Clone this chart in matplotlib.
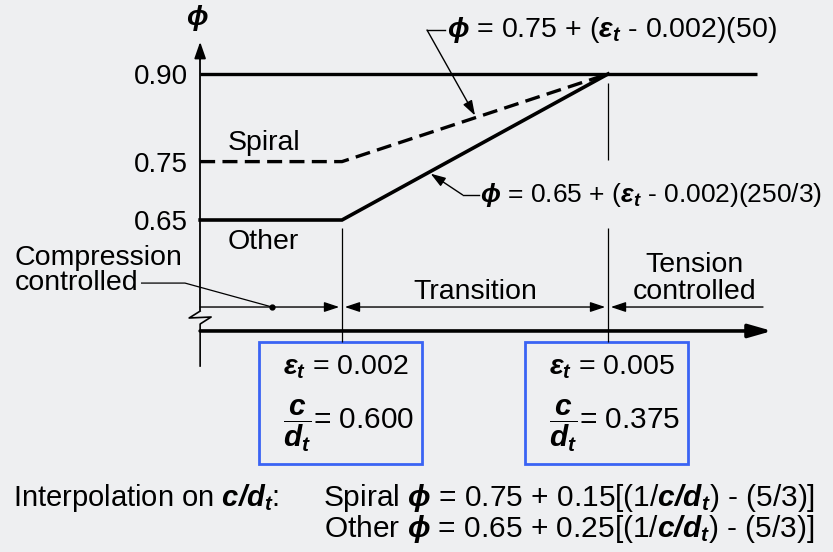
import numpy as np
import matplotlib.pyplot as plt
from matplotlib.patches import Rectangle

plt.rcParams['font.family'] = ['Liberation Sans', 'DejaVu Sans']
plt.rcParams['mathtext.fontset'] = 'custom'
plt.rcParams['mathtext.rm'] = 'Liberation Sans'
plt.rcParams['mathtext.it'] = 'Liberation Sans:italic'
plt.rcParams['mathtext.bf'] = 'Liberation Sans:bold'
plt.rcParams['mathtext.bfit'] = 'Liberation Sans:bold:italic'
plt.rcParams['mathtext.fallback'] = 'stixsans'

# strain limits of the transition zone and the phi values at those limits
eps_limits = [0.002, 0.005]
phi_spiral = [0.75, 0.90]
phi_other = [0.65, 0.90]
c_dt_text = ['0.600', '0.375']
eps_text = ['0.002', '0.005']
phi_ticks = [0.65, 0.75, 0.90]
tick_labels = ['0.65', '0.75', '0.90']

# layout (strain / phi units)
EPS_AXIS = 0.0004      # where the phi axis sits
EPS_END = 0.00668      # end of the 0.90 line
EPS_ARROW = 0.00685    # tip of the strain axis
PHI_TOP = 0.955        # tip of the phi axis
PHI_ROW = 0.501        # row of zone arrows
PHI_XAXIS = 0.460      # strain axis
BG = '#eeeff1'
BLUE = '#3a63f4'
PHI = r'$\mathbfit{ϕ}$'

fig = plt.figure(figsize=(8.33, 5.52), dpi=100)
fig.patch.set_facecolor(BG)
ax = fig.add_axes([0, 0, 1, 1])
ax.set_facecolor(BG)
ax.set_xlim(-0.0018571, 0.0075375)
ax.set_ylim(0.08151, 1.02671)
for s in ['top', 'right', 'bottom']:
    ax.spines[s].set_visible(False)
ax.set_xticks([])

# phi axis with its tick labels
ax.spines['left'].set_position(('data', EPS_AXIS))
ax.spines['left'].set_bounds(PHI_ROW - 0.005, PHI_TOP - 0.02)
ax.spines['left'].set_linewidth(1.3)
ax.set_yticks(phi_ticks)
ax.set_yticklabels(tick_labels)
ax.tick_params(axis='y', length=0, pad=9, labelsize=20)
ax.annotate('', xy=(EPS_AXIS, PHI_TOP), xytext=(EPS_AXIS, PHI_TOP - 0.03),
            arrowprops=dict(arrowstyle='-|>,head_length=1.0,head_width=0.35',
                            color='k', lw=1.3, shrinkA=0, shrinkB=0))
# break symbol and lower stub of the phi axis
dx = 0.000124
zz_x = [EPS_AXIS, EPS_AXIS - dx, EPS_AXIS + dx, EPS_AXIS, EPS_AXIS]
zz_y = [PHI_ROW - 0.007, 0.4822, 0.4839, 0.4719, 0.40]
ax.plot(zz_x, zz_y, color='k', lw=1.2)

# strain axis
ax.annotate('', xy=(EPS_ARROW, PHI_XAXIS), xytext=(EPS_AXIS, PHI_XAXIS),
            arrowprops=dict(arrowstyle='-|>,head_length=1.4,head_width=0.4',
                            color='k', lw=2.6, shrinkA=0, shrinkB=0))

# phi curves
x_curve = [EPS_AXIS] + eps_limits
ax.plot([EPS_AXIS, EPS_END], [phi_spiral[1]] * 2, color='k', lw=2.4,
        solid_capstyle='butt')
ax.plot(x_curve, [phi_spiral[0]] + phi_spiral, color='k', lw=2.4,
        ls=(0, (4.5, 2.2)))
ax.plot(x_curve, [phi_other[0]] + phi_other, color='k', lw=2.6,
        solid_joinstyle='miter')

# vertical guides at the strain limits
ax.vlines(eps_limits[0], 0.441, phi_other[0] - 0.014, color='k', lw=0.9)
ax.vlines(eps_limits[1], 0.441, 0.637, color='k', lw=0.9)
ax.vlines(eps_limits[1], 0.752, phi_spiral[1] - 0.016, color='k', lw=0.9)

# zone arrows
head = 'head_length=0.9,head_width=0.3'
ax.annotate('', xy=(eps_limits[0], PHI_ROW), xytext=(EPS_AXIS, PHI_ROW),
            arrowprops=dict(arrowstyle='-|>,' + head, color='k', lw=1.0,
                            shrinkA=0, shrinkB=2))
ax.annotate('', xy=(eps_limits[1], PHI_ROW), xytext=(eps_limits[0], PHI_ROW),
            arrowprops=dict(arrowstyle='<|-|>,' + head, color='k', lw=1.0,
                            shrinkA=2, shrinkB=2))
ax.annotate('', xy=(eps_limits[1], PHI_ROW), xytext=(0.006748, PHI_ROW),
            arrowprops=dict(arrowstyle='-|>,' + head, color='k', lw=1.0,
                            shrinkA=0, shrinkB=2))

fs = 20.5
ax.text(np.mean(eps_limits), 0.527, 'Transition', fontsize=fs,
        ha='center', va='center')
ax.text(0.00598, 0.573, 'Tension', fontsize=fs, ha='center', va='center')
ax.text(0.00598, 0.527, 'controlled', fontsize=fs, ha='center', va='center')
ax.text(-0.001688, 0.585, 'Compression', fontsize=fs, ha='left', va='center')
ax.text(-0.001688, 0.542, 'controlled', fontsize=fs, ha='left', va='center')
ax.plot([-0.000260, 0.000229, 0.001211], [0.542, 0.542, PHI_ROW],
        color='k', lw=0.9)
ax.plot([0.001211], [PHI_ROW], 'o', color='k', ms=3.5)
ax.text(0.000714, 0.782, 'Spiral', fontsize=fs, ha='left', va='center')
ax.text(0.000714, 0.612, 'Other', fontsize=fs, ha='left', va='center')
ax.text(0.000365, 0.996, PHI, fontsize=fs, ha='center', va='center')

# equation callouts
eq1 = PHI + r' = 0.75 + ($\mathbfit{ε}_\mathbfit{t}$ - 0.002)(50)'
eq2 = PHI + r' = 0.65 + ($\mathbfit{ε}_\mathbfit{t}$ - 0.002)(250/3)'
tip1 = 0.0035
tip2 = 0.0030
ax.text(0.003180, 0.9753, eq1, fontsize=20.5, ha='left', va='center')
ax.plot([0.003160, 0.002959], [0.9753, 0.9753], color='k', lw=1.0)
ax.annotate('', xy=(tip1, np.interp(tip1, x_curve, [phi_spiral[0]] + phi_spiral) + 0.004),
            xytext=(0.002959, 0.9753),
            arrowprops=dict(arrowstyle='-|>,' + head, color='k', lw=1.0,
                            shrinkA=0, shrinkB=0))
ax.text(0.003556, 0.693, eq2, fontsize=19, ha='left', va='center')
ax.plot([0.003540, 0.003360], [0.693, 0.693], color='k', lw=1.0)
ax.annotate('', xy=(tip2, np.interp(tip2, x_curve, [phi_other[0]] + phi_other) - 0.004),
            xytext=(0.003360, 0.693),
            arrowprops=dict(arrowstyle='-|>,' + head, color='k', lw=1.0,
                            shrinkA=0, shrinkB=0))

# boxes with the strain / depth ratio at each limit
box_w = 0.001838
for eps, et, cd in zip(eps_limits, eps_text, c_dt_text):
    ax.add_patch(Rectangle((eps - box_w / 2 - 0.00002, 0.232), box_w, 0.209,
                           fill=False, ec=BLUE, lw=2.0))
    ax.text(eps - 0.00066, 0.398, r'$\mathbfit{ε}_\mathbfit{t}$ = ' + et,
            fontsize=fs, ha='left', va='center')
    ax.text(eps - 0.00066, 0.297,
            r'$\dfrac{\mathbfit{c}}{\mathbfit{d}_\mathbfit{t}}$= ' + cd,
            fontsize=21.5, ha='left', va='center')

# interpolation note
cd_math = r'$\mathbfit{c/d}_\mathbfit{t}$'
ax.text(0.016, 0.097, 'Interpolation on ' + cd_math + ':', transform=ax.transAxes,
        fontsize=21, ha='left', va='center')
ax.text(0.978, 0.097,
        'Spiral ' + PHI + ' = 0.75 + 0.15[(1/' + cd_math + ') - (5/3)]',
        transform=ax.transAxes, fontsize=21.5, ha='right', va='center')
ax.text(0.978, 0.041,
        'Other ' + PHI + ' = 0.65 + 0.25[(1/' + cd_math + ') - (5/3)]',
        transform=ax.transAxes, fontsize=21.5, ha='right', va='center')

fig.savefig('out.png', dpi=100, facecolor=BG)
